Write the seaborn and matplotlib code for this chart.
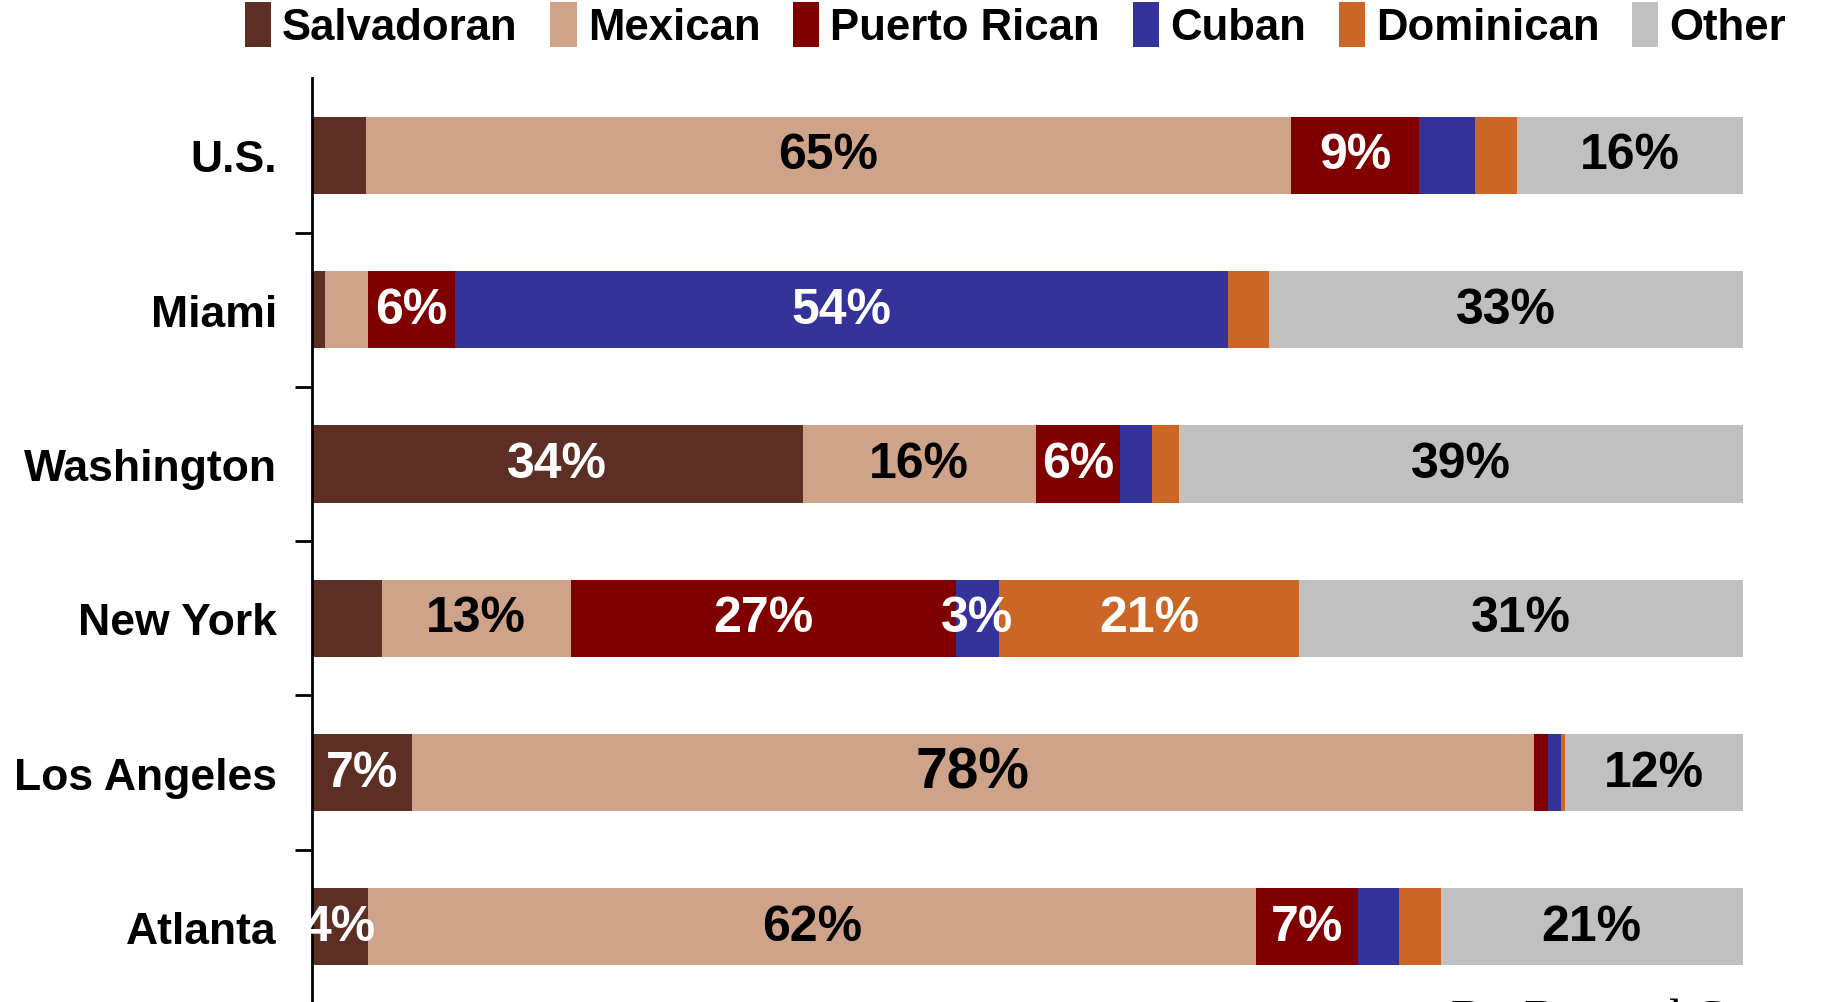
import numpy as np
import pandas as pd
import seaborn as sns
import matplotlib.pyplot as plt
from matplotlib.patches import Patch

# Data (share of Hispanic population, %)
cities = ["U.S.", "Miami", "Washington", "New York", "Los Angeles", "Atlanta"]
groups = ["Salvadoran", "Mexican", "Puerto Rican", "Cuban", "Dominican", "Other"]

salvadoran = [3.8, 0.9, 34.3, 4.9, 7.0, 3.9]
mexican = [64.6, 3.0, 16.3, 13.2, 78.4, 62.1]
puerto_rican = [9.0, 6.1, 5.9, 26.9, 1.0, 7.1]
cuban = [3.9, 54.0, 2.2, 3.0, 0.9, 2.9]
dominican = [2.9, 2.9, 1.9, 21.0, 0.3, 2.9]
other = [15.8, 33.1, 39.4, 31.0, 12.4, 21.1]

# which segments carry a data label
show_labels = {
    "Salvadoran": [False, False, True, False, True, True],
    "Mexican": [True, False, True, True, True, True],
    "Puerto Rican": [True, True, True, True, False, True],
    "Cuban": [False, True, False, True, False, False],
    "Dominican": [False, False, False, True, False, False],
    "Other": [True, True, True, True, True, True],
}

colors = {
    "Salvadoran": "#5C2E24",
    "Mexican": "#CFA38A",
    "Puerto Rican": "#800000",
    "Cuban": "#333399",
    "Dominican": "#CC6627",
    "Other": "#C0C0C0",
}
text_colors = {
    "Salvadoran": "white",
    "Mexican": "black",
    "Puerto Rican": "white",
    "Cuban": "white",
    "Dominican": "white",
    "Other": "black",
}

df = pd.DataFrame(
    {"City": cities, "Salvadoran": salvadoran, "Mexican": mexican,
     "Puerto Rican": puerto_rican, "Cuban": cuban, "Dominican": dominican,
     "Other": other}
)
cum = df[groups].cumsum(axis=1)

sns.set_theme(style="white")
plt.rcParams["font.family"] = ["Liberation Sans", "DejaVu Sans"]
plt.rcParams["font.weight"] = "bold"
plt.rcParams["text.color"] = "black"
plt.rcParams["ytick.labelcolor"] = "black"

fig = plt.figure(figsize=(18.23, 10.03), dpi=100)
ax = fig.add_axes([0.171, -0.002, 0.785, 0.923])

# stacked bars: draw cumulative totals from the widest down
for g in reversed(groups):
    sns.barplot(x=cum[g], y=df["City"], orient="h", color=colors[g],
                width=0.5, saturation=1, linewidth=0, ax=ax)

# segment labels
for i, city in enumerate(cities):
    for g in groups:
        if not show_labels[g][i]:
            continue
        v = df.loc[i, g]
        mid = cum.loc[i, g] - v / 2
        size = 41 if v > 70 else 36
        ax.text(mid, i, f"{v:.0f}%", ha="center", va="center",
                color=text_colors[g], fontsize=size, fontweight="bold")

ax.set_xlim(0, 100)
ax.set_ylim(5.5, -0.5)
ax.set_xlabel("")
ax.set_ylabel("")
ax.set_xticks([])
for s in ["top", "right", "bottom"]:
    ax.spines[s].set_visible(False)
ax.spines["left"].set_color("black")
ax.spines["left"].set_linewidth(2)
ax.set_yticks(np.arange(len(cities)))
ax.set_yticklabels(cities, fontsize=32, fontweight="bold", color="black")
ax.set_yticks(np.arange(len(cities)) + 0.5, minor=True)
ax.tick_params(axis="y", which="major", length=0, pad=25)
ax.tick_params(axis="y", which="minor", length=12, width=2, color="black",
               direction="out", left=True)

handles = [Patch(facecolor=colors[g], edgecolor="none", label=g) for g in groups]
fig.legend(handles=handles, loc="center", bbox_to_anchor=(0.557, 0.974),
           ncol=6, frameon=False, handlelength=0.6,
           handleheight=1.2, handletextpad=0.25, columnspacing=0.75,
           prop={"size": 31.5, "weight": "bold"})

fig.text(1451 / 1823, 1 - 999 / 1003, "Dr. Bernard G", ha="left", va="top",
         fontsize=35, family=["Liberation Serif", "DejaVu Serif"],
         fontweight="normal", color="black")

fig.savefig("out.png", dpi=100)
